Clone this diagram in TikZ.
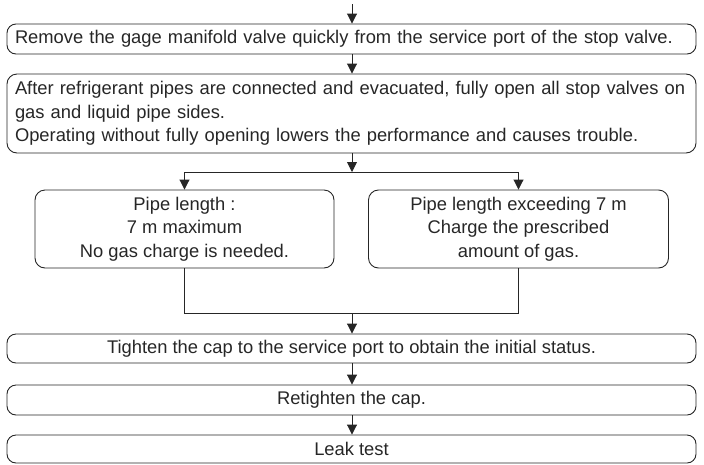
\documentclass[tikz,border=0pt]{standalone}
\usepackage{fontspec}
\setmainfont{Liberation Sans}
\usepackage{tikz}
\usetikzlibrary{arrows.meta}
\usetikzlibrary{positioning}
\usetikzlibrary{calc}

\definecolor{ink}{HTML}{262626}

\begin{document}
\begin{tikzpicture}[x=1pt, y=-1pt,
    flowbox/.style={draw=ink, line width=0.9pt, rounded corners=9pt, text=ink,
      inner sep=0pt, font=\fontsize{18.35}{23.5}\selectfont},
    leftbox/.style={flowbox, inner xsep=8pt, text width=673pt, align=left},
    arr/.style={draw=ink, line width=0.9pt, -{Triangle[width=10pt, length=10pt]}},
    ln/.style={draw=ink, line width=0.9pt}]
    \useasboundingbox (0, 0) rectangle (704, 464);
    \coordinate (start) at (352, 4);
    \node[leftbox, minimum height=30pt] at (351.5, 39) (remove)
      {Remove the gage manifold valve quickly from the service port of the stop valve.};
    \node[leftbox, rounded corners=10pt, minimum height=79pt] at (351.5, 113.5) (open)
      {After refrigerant pipes are connected and evacuated, fully open all stop valves on\\
       gas and liquid pipe sides.\\
       Operating without fully opening lowers the performance and causes trouble.};
    \node[flowbox, rounded corners=10pt, minimum width=299pt, minimum height=78pt,
      align=center] at (184.5, 229) (short)
      {Pipe length :\\ 7 m maximum\\ No gas charge is needed.};
    \node[flowbox, rounded corners=10pt, minimum width=300pt, minimum height=78pt,
      align=center] at (518.5, 229) (long)
      {Pipe length exceeding 7 m\\ Charge the prescribed\\ amount of gas.};
    \node[flowbox, minimum width=689pt, minimum height=29pt] at (351.5, 348.5) (tighten)
      {Tighten the cap to the service port to obtain the initial status.};
    \node[flowbox, minimum width=689pt, minimum height=30pt] at (351.5, 400) (retighten)
      {Retighten the cap.};
    \node[flowbox, minimum width=689pt, minimum height=28pt] at (351.5, 449) (leak)
      {Leak test};
    \coordinate (split) at (352, 172);
    \coordinate (join) at (352, 313);
    % main line
    \draw[arr] (start) -- (remove.north -| start);
    \draw[arr] (remove.south -| start) -- (open.north -| start);
    \draw[arr] (open.south -| start) -- (split);
    % branch
    \draw[ln] (short.north |- split) -- (long.north |- split);
    \draw[arr] (short.north |- split) -- (short.north);
    \draw[arr] (long.north |- split) -- (long.north);
    \draw[ln] (short.south) -- (short.south |- join) -- (long.south |- join) -- (long.south);
    \draw[arr] (join) -- (tighten.north -| join);
    \draw[arr] (tighten.south -| join) -- (retighten.north -| join);
    \draw[arr] (retighten.south -| join) -- (leak.north -| join);
\end{tikzpicture}
\end{document}
